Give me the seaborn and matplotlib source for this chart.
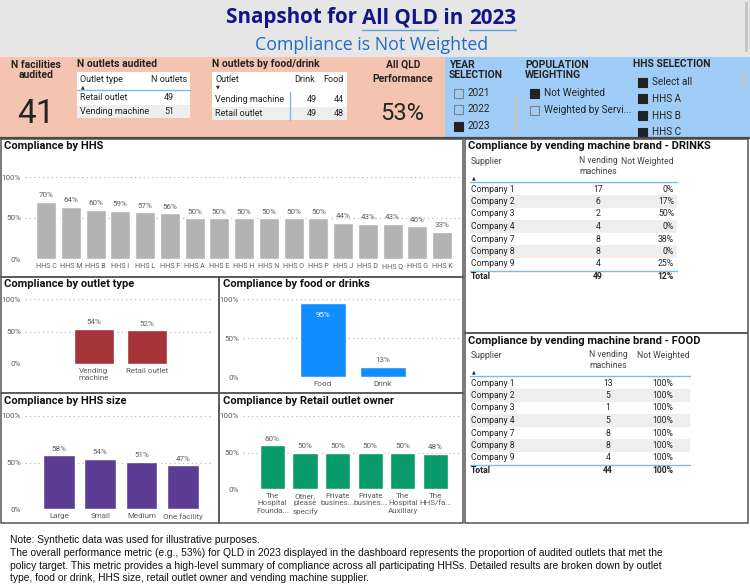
import matplotlib
matplotlib.use('Agg')
import matplotlib.pyplot as plt
from matplotlib.patches import Rectangle
import pandas as pd
import seaborn as sns

sns.set_theme(style='white')
plt.rcParams['font.family'] = ['Roboto', 'DejaVu Sans']

# ---- data ----
n_facilities = 41
qld_perf = '53%'

audited_types = ['Retail outlet', 'Vending machine']
audited_n = [49, 51]

fd_outlets = ['Vending machine', 'Retail outlet']
fd_drink = [49, 49]
fd_food = [44, 48]

years = ['2021', '2022', '2023']
years_on = [False, False, True]
weighting = ['Not Weighted', 'Weighted by Servi...']
weighting_on = [True, False]
hhs_select = ['Select all', 'HHS A', 'HHS B', 'HHS C']

hhs_names = ['HHS C', 'HHS M', 'HHS B', 'HHS I', 'HHS L', 'HHS F', 'HHS A', 'HHS E', 'HHS H',
             'HHS N', 'HHS O', 'HHS P', 'HHS J', 'HHS D', 'HHS Q', 'HHS G', 'HHS K']
hhs_pct = [70, 64, 60, 59, 57, 56, 50, 50, 50, 50, 50, 50, 44, 43, 43, 40, 33]

outlet_types = ['Vending\nmachine', 'Retail outlet']
outlet_pct = [54, 52]

food_drink = ['Food', 'Drink']
food_drink_pct = [95, 13]

hhs_sizes = ['Large', 'Small', 'Medium', 'One facility']
hhs_size_pct = [58, 54, 51, 47]

owner_keys = ['foundation', 'other', 'private1', 'private2', 'auxillary', 'hhs']
owner_labels = ['The\nHospital\nFounda...', 'Other,\nplease\nspecify', 'Private\nbusines...',
                'Private\nbusines...', 'The\nHospital\nAuxillary', 'The\nHHS/fa...']
owner_pct = [60, 50, 50, 50, 50, 48]

suppliers = ['Company 1', 'Company 2', 'Company 3', 'Company 4', 'Company 7', 'Company 8', 'Company 9']
drink_n = [17, 6, 2, 4, 8, 8, 4]
drink_pct = ['0%', '17%', '50%', '0%', '38%', '0%', '25%']
drink_total = (49, '12%')
food_n = [13, 5, 1, 5, 8, 8, 4]
food_pct = ['100%'] * 7
food_total = (44, '100%')

note_lines = [
    'Note: Synthetic data was used for illustrative purposes.',
    'The overall performance metric (e.g., 53%) for QLD in 2023 displayed in the dashboard represents the proportion of audited outlets that met the',
    'policy target. This metric provides a high-level summary of compliance across all participating HHSs. Detailed results are broken down by outlet',
    'type, food or drink, HHS size, retail outlet owner and vending machine supplier.',
]

W, H = 750, 587
fig = plt.figure(figsize=(7.5, 5.87), dpi=100)
fig.patch.set_facecolor('white')
bg = fig.add_axes([0, 0, 1, 1])
bg.set_xlim(0, W)
bg.set_ylim(H, 0)
bg.axis('off')

DARK = '#252423'
BLUE_LINE = '#7db9ef'


def box(x0, y0, x1, y1, **kw):
    bg.add_patch(Rectangle((x0, y0), x1 - x0, y1 - y0, **kw))


def txt(x, y, s, **kw):
    kw.setdefault('fontsize', 6.5)
    kw.setdefault('color', DARK)
    kw.setdefault('va', 'center')
    return bg.text(x, y, s, **kw)


def checkbox(x, y, label, on):
    box(x, y - 4.5, x + 9, y + 4.5, facecolor='#222222' if on else 'none',
        edgecolor='#222222' if on else '#808080', linewidth=0.8)
    txt(x + 14, y, label, fontsize=7.2)


# ---- header ----
box(0, 0, W, 57, facecolor='#e6e6e6', edgecolor='none')
box(745, 2, 748, 52, facecolor='#c4c4c4', edgecolor='none')

renderer = fig.canvas.get_renderer()
pieces = [('Snapshot for ', False), ('All QLD', True), (' in ', False), ('2023', True)]
objs = [txt(0, 18, p, fontsize=14.9, fontweight='bold', color='#13138a', family='Open Sans')
        for p, _ in pieces]
widths = [o.get_window_extent(renderer).width for o in objs]
x = 371 - sum(widths) / 2
for o, wd, (_, ul) in zip(objs, widths, pieces):
    o.set_x(x)
    if ul:
        bg.plot([x, x + wd], [29.5, 29.5], color='#5aa0e6', linewidth=1)
    x += wd
txt(372, 45, 'Compliance is Not Weighted', fontsize=12.8, color='#1f6cc8', ha='center', family='Open Sans')

# ---- top cards ----
box(0, 57, 445, 137, facecolor='#f5c4b0', edgecolor='none')
box(445, 57, W, 137, facecolor='#a0cdf7', edgecolor='none')
bg.plot([0, W], [138, 138], color='#4a4a4a', linewidth=1.6)

txt(36, 70, 'N facilities\naudited', ha='center', fontweight='bold', fontsize=7.5, linespacing=1.1)
txt(36, 114, str(n_facilities), ha='center', fontsize=24)

txt(77, 64, 'N outlets audited', fontweight='bold', fontsize=7.5)
box(77, 72, 190, 118, facecolor='white', edgecolor='none')
txt(80, 80, 'Outlet type', fontsize=6.5)
txt(187, 80, 'N outlets', ha='right', fontsize=6.5)
txt(81, 87, '▲', fontsize=3.5)
bg.plot([77, 190], [90, 90], color=BLUE_LINE, linewidth=1)
for i, (name, n) in enumerate(zip(audited_types, audited_n)):
    yy = 98 + i * 13
    if i % 2:
        box(77, yy - 6.5, 190, yy + 6.5, facecolor='#eeeeee', edgecolor='none')
    txt(80, yy, name)
    txt(169, yy, str(n), ha='center')

txt(212, 64, 'N outlets by food/drink', fontweight='bold', fontsize=7.5)
box(212, 72, 347, 120, facecolor='white', edgecolor='none')
txt(215, 80, 'Outlet')
txt(305, 80, 'Drink', ha='center')
txt(333, 80, 'Food', ha='center')
txt(216, 87, '▼', fontsize=3.5)
for i, (name, d, f) in enumerate(zip(fd_outlets, fd_drink, fd_food)):
    yy = 100 + i * 14
    if i % 2:
        box(212, yy - 7, 347, yy + 6, facecolor='#eeeeee', edgecolor='none')
    txt(215, yy, name)
    txt(312, yy, str(d), ha='center')
    txt(339, yy, str(f), ha='center')
bg.plot([290, 290], [92, 120], color=BLUE_LINE, linewidth=1)

txt(403, 72, 'All QLD\nPerformance', ha='center', fontweight='bold', fontsize=7.5, linespacing=1.6)
txt(402, 113, qld_perf, ha='center', fontsize=17)

txt(449, 70, 'YEAR\nSELECTION', fontweight='bold', fontsize=7.5, linespacing=1.1)
for i, (y_lab, on) in enumerate(zip(years, years_on)):
    checkbox(454, 93 + i * 16.5, y_lab, on)
box(515, 97, 518, 135, facecolor='#c4c4c4', edgecolor='none')

txt(525, 70, 'POPULATION\nWEIGHTING', fontweight='bold', fontsize=7.5, linespacing=1.1)
for i, (w_lab, on) in enumerate(zip(weighting, weighting_on)):
    checkbox(530, 93 + i * 17, w_lab, on)

txt(633, 64, 'HHS SELECTION', fontweight='bold', fontsize=7.5)
for i, h_lab in enumerate(hhs_select):
    checkbox(638, 82 + i * 16.8, h_lab, True)
box(742, 72, 745, 86, facecolor='#c4c4c4', edgecolor='none')

# ---- panel frames ----
frame = dict(facecolor='none', edgecolor='#555555', linewidth=1.1)
box(1, 139, 463, 277, **frame)
box(1, 277, 219, 393, **frame)
box(219, 277, 463, 393, **frame)
box(1, 393, 219, 523, **frame)
box(219, 393, 463, 523, **frame)
box(465, 139, 748, 333, **frame)
box(465, 333, 748, 523, **frame)

title_kw = dict(fontweight='bold', fontsize=8, color='#111111')
txt(4, 146, 'Compliance by HHS', **title_kw)
txt(4, 284, 'Compliance by outlet type', **title_kw)
txt(223, 284, 'Compliance by food or drinks', **title_kw)
txt(4, 401, 'Compliance by HHS size', **title_kw)
txt(223, 401, 'Compliance by Retail outlet owner', **title_kw)
txt(468, 146, 'Compliance by vending machine brand - DRINKS', **title_kw)
txt(468, 341, 'Compliance by vending machine brand - FOOD', **title_kw)


def bar_chart(left, right, zero, full, cats, vals, color, xlim, width, ticklabels=None, xfs=5.8):
    ax = fig.add_axes([left / W, 1 - zero / H, (right - left) / W, (zero - full) / H])
    ax.set_facecolor('none')
    df = pd.DataFrame({'cat': cats, 'val': vals})
    sns.barplot(data=df, x='cat', y='val', color=color, width=width, saturation=1, ax=ax)
    ax.set_xlim(*xlim)
    ax.set_ylim(0, 100)
    ax.set_yticks([0, 50, 100])
    ax.set_yticklabels(['0%', '50%', '100%'])
    ax.set_axisbelow(True)
    ax.grid(axis='y', color='#bdbdbd', linestyle=(0, (1, 2.5)), linewidth=0.9)
    ax.grid(axis='x', visible=False)
    ax.set_xlabel('')
    ax.set_ylabel('')
    for s in ax.spines.values():
        s.set_visible(False)
    ax.tick_params(length=0, labelsize=5.8, colors='#605e5c', pad=3)
    ax.tick_params(axis='x', labelsize=xfs)
    if ticklabels is not None:
        ax.set_xticks(range(len(ticklabels)))
        ax.set_xticklabels(ticklabels, linespacing=1.25)
    return ax


def top_labels(ax, vals, mask=None):
    labs = [f'{v}%' if (mask is None or mask[i]) else '' for i, v in enumerate(vals)]
    ax.bar_label(ax.containers[0], labels=labs, padding=2.5, fontsize=5.8, color='#605e5c')


ax = bar_chart(25, 462, 259, 177, hhs_names, hhs_pct, '#b3b3b3', (-0.85, 16.8), 0.81, xfs=5.1)
top_labels(ax, hhs_pct)
# single-line labels: align on baseline so "HHS Q" sits level with the rest
ax.tick_params(axis='x', pad=6.3)
for lbl in ax.get_xticklabels():
    lbl.set_va('baseline')

ax = bar_chart(25, 213, 364, 299, outlet_types, outlet_pct, '#a4343a', (-1.3, 2.25), 0.76)
top_labels(ax, outlet_pct)

ax = bar_chart(243, 462, 377, 299, food_drink, food_drink_pct, '#118dff', (-1.33, 2.32), 0.77)
top_labels(ax, food_drink_pct, mask=[False, True])
ax.bar_label(ax.containers[0], labels=['95%', ''], padding=-11, fontsize=5.8, color='white')

ax = bar_chart(25, 213, 509, 416, hhs_sizes, hhs_size_pct, '#5b3d95', (-0.82, 3.73), 0.77)
top_labels(ax, hhs_size_pct)

ax = bar_chart(243, 462, 489, 416, owner_keys, owner_pct, '#099b6c', (-0.9, 5.81), 0.77,
               ticklabels=owner_labels)
top_labels(ax, owner_pct)


# ---- supplier tables ----
def brand_table(head_y, line_right, n_x, pct_x, pct_ha, counts, pcts, total):
    fs = 6.2
    txt(471, head_y, 'Supplier', fontsize=fs, color='#444444')
    txt(n_x, head_y + 5, 'N vending\nmachines', ha='center', fontsize=fs, color='#444444', linespacing=1.3)
    txt(pct_x, head_y, 'Not Weighted', ha=pct_ha, fontsize=fs, color='#444444')
    txt(472, head_y + 17, '▲', fontsize=3.5)
    bg.plot([470, line_right], [head_y + 21, head_y + 21], color=BLUE_LINE, linewidth=1)
    step = 12.5
    first = head_y + 28
    for i, (sup, n, p) in enumerate(zip(suppliers, counts, pcts)):
        yy = first + i * step
        if i % 2:
            box(470, yy - step / 2, line_right, yy + step / 2, facecolor='#eeeeee', edgecolor='none')
        txt(471, yy, sup, fontsize=fs)
        txt(n_x, yy, str(n), ha='center', fontsize=fs)
        txt(pct_x, yy, p, ha=pct_ha, fontsize=fs)
    line_y = first + len(suppliers) * step - step / 2 + 0.5
    bg.plot([470, line_right], [line_y, line_y], color=BLUE_LINE, linewidth=1)
    ty = line_y + 6
    txt(471, ty, 'Total', fontweight='bold', fontsize=fs)
    txt(n_x, ty, str(total[0]), ha='center', fontweight='bold', fontsize=fs)
    txt(pct_x, ty, total[1], ha=pct_ha, fontweight='bold', fontsize=fs)


brand_table(161, 677, 598, 674, 'right', drink_n, drink_pct, drink_total)
brand_table(355, 690, 608, 663, 'center', food_n, food_pct, food_total)

# ---- footnote ----
for i, line in enumerate(note_lines):
    txt(10, 540 + i * 12.8, line, fontsize=7.4, color='#111111', family='Liberation Sans')

fig.savefig('out.png', dpi=100, facecolor='white')
